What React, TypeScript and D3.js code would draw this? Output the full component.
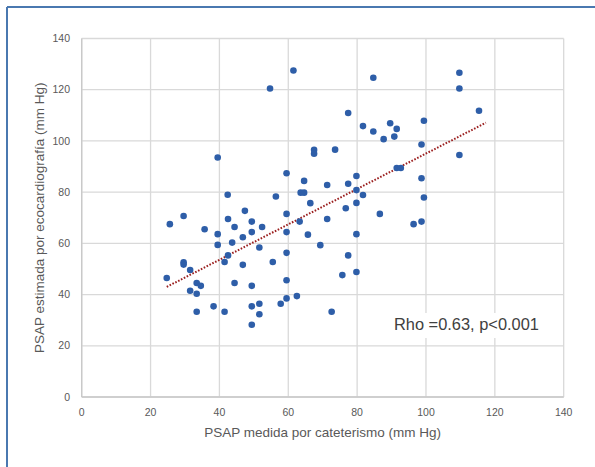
import React from "react";
import * as d3 from "d3";

const xCath: number[] = [
  61.5, 54.7, 67.5, 67.5, 39.5, 59.5, 64.6, 42.4, 63.6, 64.6, 56.4, 84.7, 109.7, 109.7, 115.4, 77.4,
  99.4, 81.7, 89.6, 91.5, 84.7, 87.7, 90.8, 98.7, 73.6, 109.7, 91.5, 92.7, 79.8, 98.7, 71.3, 77.4,
  79.8, 81.7, 66.4, 29.6, 25.6, 35.7, 42.5, 47.4, 59.5, 49.4, 44.4, 52.4, 63.3, 39.5, 49.4, 46.8,
  59.5, 65.7, 39.5, 43.7, 51.6, 69.3, 59.5, 42.5, 41.5, 29.6, 29.6, 46.8, 55.5, 31.5, 24.7, 33.4,
  34.6, 44.4, 49.4, 59.5, 31.5, 33.4, 59.5, 62.5, 57.8, 51.6, 49.4, 38.3, 33.4, 41.5, 51.6, 49.4,
  99.4, 79.8, 76.7, 71.3, 86.6, 96.4, 98.7, 79.8, 77.4, 75.7, 79.8, 72.6,
];
const yEco: number[] = [
  127.5, 120.5, 96.5, 95, 93.5, 87.4, 84.4, 79, 79.8, 79.8, 78.3, 124.7, 126.6, 120.5, 111.8, 110.9,
  107.9, 105.8, 106.9, 104.7, 103.7, 100.7, 101.7, 98.6, 96.6, 94.5, 89.4, 89.4, 86.3, 85.4, 82.8, 83.3,
  80.8, 78.9, 75.7, 70.7, 67.5, 65.5, 69.5, 72.7, 71.5, 68.5, 66.4, 66.4, 68.5, 63.6, 64.4, 62.4,
  64.4, 63.4, 59.4, 60.3, 58.4, 59.3, 56.3, 55.3, 52.7, 52.6, 51.7, 51.6, 52.7, 49.6, 46.5, 44.5,
  43.4, 44.5, 43.4, 45.6, 41.5, 40.3, 38.5, 39.4, 36.4, 36.4, 35.4, 35.4, 33.3, 33.3, 32.3, 28.2,
  77.9, 75.8, 73.7, 69.5, 71.5, 67.5, 68.5, 63.6, 55.3, 47.6, 48.8, 33.3,
];
const trendX: number[] = [24.7, 117.4];
const trendY: number[] = [43.0, 107.1];
const xTicks: number[] = [0, 20, 40, 60, 80, 100, 120, 140];
const yTicks: number[] = [0, 20, 40, 60, 80, 100, 120, 140];
const xTitle = "PSAP medida por cateterismo (mm Hg)";
const yTitle = "PSAP estimada por ecocardiografía (mm Hg)";
const annotation = "Rho =0.63, p<0.001";

const W = 595;
const H = 467;
const left = 81.7;
const right = 563.7;
const top = 38.5;
const bottom = 397;
const font = "'Liberation Sans', Arial, sans-serif";

export default function App() {
  const x = d3.scaleLinear().domain([0, 140]).range([left, right]);
  const y = d3.scaleLinear().domain([0, 140]).range([bottom, top]);
  const pts = xCath.map((v, i) => [v, yEco[i]] as [number, number]);
  const trend = d3
    .line<number>()
    .x((d) => x(d))
    .y((_d, i) => y(trendY[i]));

  return (
    <svg
      width={W}
      height={H}
      style={{ position: "absolute", left: 0, top: 0, background: "#fff" }}
    >
      <rect x={0} y={0} width={W} height={H} fill="#fff" />
      <line x1={7} y1={7} x2={W} y2={7} stroke="#4a78b0" strokeWidth={2} />
      <line x1={7} y1={7} x2={7} y2={H} stroke="#4a78b0" strokeWidth={2} />

      {xTicks.map((t) => (
        <line key={"gx" + t} x1={x(t)} x2={x(t)} y1={top} y2={bottom} stroke="#d9d9d9" strokeWidth={1.3} />
      ))}
      {yTicks.map((t) => (
        <line key={"gy" + t} x1={left} x2={right} y1={y(t)} y2={y(t)} stroke="#d9d9d9" strokeWidth={1.3} />
      ))}
      <line x1={left} x2={right} y1={bottom} y2={bottom} stroke="#c8c8c8" strokeWidth={1.3} />
      <line x1={left} x2={left} y1={top} y2={bottom} stroke="#c8c8c8" strokeWidth={1.3} />

      {xTicks.map((t) => (
        <text key={"tx" + t} x={x(t)} y={416} textAnchor="middle" fontFamily={font} fontSize={10.5} fill="#595959">
          {t}
        </text>
      ))}
      {yTicks.map((t) => (
        <text key={"ty" + t} x={70} y={y(t) + 3.7} textAnchor="end" fontFamily={font} fontSize={10.5} fill="#595959">
          {t}
        </text>
      ))}

      <text x={(left + right) / 2} y={437} textAnchor="middle" fontFamily={font} fontSize={13.5} fill="#595959">
        {xTitle}
      </text>
      <text
        transform={`translate(44,${(top + bottom) / 2}) rotate(-90)`}
        textAnchor="middle"
        fontFamily={font}
        fontSize={13.5}
        fill="#595959"
      >
        {yTitle}
      </text>

      <path
        d={trend(trendX) || ""}
        fill="none"
        stroke="#9b1f1f"
        strokeWidth={2}
        strokeDasharray="1.6 1.6"
      />

      {pts.map((p, i) => (
        <circle key={i} cx={x(p[0])} cy={y(p[1])} r={3.3} fill="#2e5ea8" />
      ))}

      <rect x={390} y={313} width={156} height={25} fill="#fff" />
      <text x={394} y={330} fontFamily={font} fontSize={16.4} fill="#404040">
        {annotation}
      </text>
    </svg>
  );
}
